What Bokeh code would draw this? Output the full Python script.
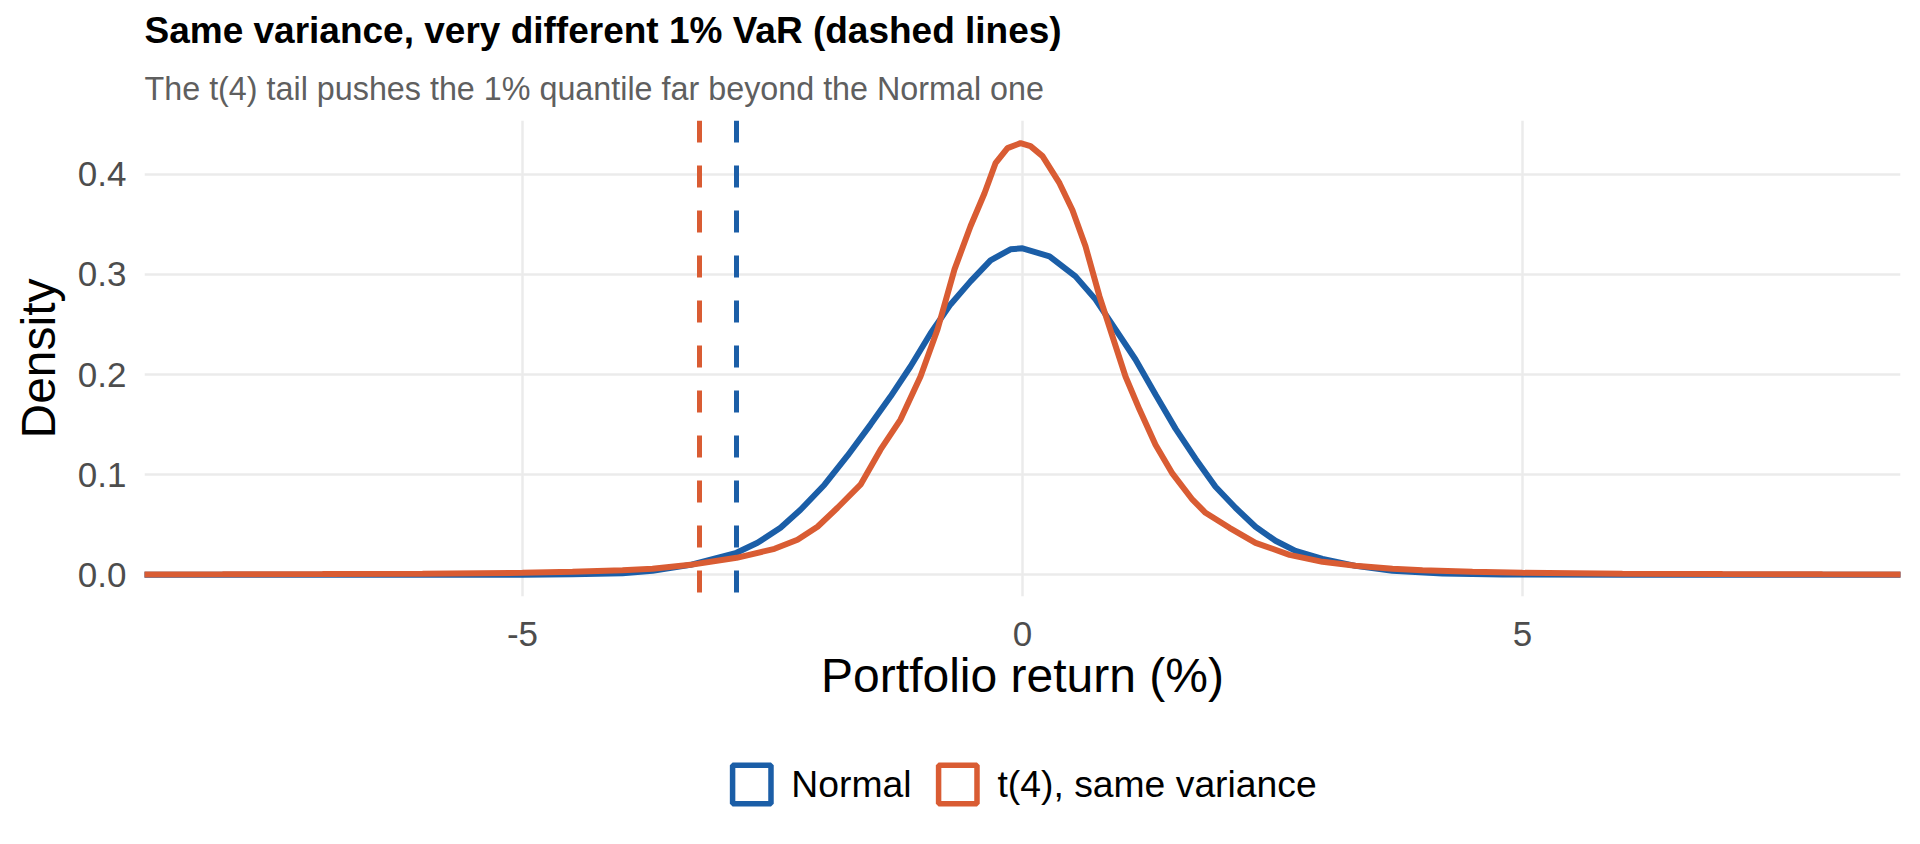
from bokeh.plotting import figure
from bokeh.models import (Range1d, FixedTicker, Span, Legend, LegendItem, Title,
                          NumeralTickFormatter)
from bokeh.layouts import column
from bokeh.embed import file_html
from bokeh.resources import INLINE

# ---- data ----
normal_x = [-9.0, -6.0, -5.0, -4.5, -4.0, -3.7, -3.32, -2.86, -2.65, -2.42, -2.22, -1.98,
            -1.75, -1.52, -1.32, -1.12, -0.92, -0.72, -0.52, -0.32, -0.12, 0.0, 0.27,
            0.53, 0.73, 0.93, 1.13, 1.33, 1.53, 1.73, 1.93, 2.13, 2.33, 2.53, 2.73,
            3.0, 3.33, 3.7, 4.2, 4.8, 6.0, 9.0]
normal_y = [0.0, 0.0, 0.0002, 0.0005, 0.0015, 0.004, 0.010, 0.022, 0.032, 0.047, 0.065, 0.090,
            0.119, 0.150, 0.178, 0.208, 0.241, 0.270, 0.293, 0.314, 0.325, 0.326, 0.318,
            0.298, 0.275, 0.245, 0.215, 0.180, 0.146, 0.116, 0.088, 0.067, 0.048, 0.034, 0.024,
            0.016, 0.009, 0.004, 0.0013, 0.0004, 0.0, 0.0]

t4_x = [-9.0, -8.0, -7.0, -6.0, -5.0, -4.5, -4.0, -3.7, -3.32, -2.86, -2.48, -2.25, -2.05,
        -1.85, -1.62, -1.42, -1.22, -1.02, -0.85, -0.68, -0.52, -0.38, -0.27, -0.15,
        -0.02, 0.08, 0.2, 0.37, 0.5, 0.63, 0.77, 0.9, 1.03, 1.17, 1.33, 1.5, 1.7, 1.83, 2.07,
        2.33, 2.67, 3.0, 3.33, 3.7, 4.0, 4.5, 5.0, 6.0, 7.0, 8.0, 9.0]
t4_y = [0.0004, 0.0005, 0.0008, 0.0012, 0.002, 0.003, 0.0045, 0.006, 0.010, 0.017, 0.026, 0.035, 0.048,
        0.067, 0.090, 0.125, 0.155, 0.198, 0.245, 0.305, 0.348, 0.381, 0.411, 0.426,
        0.431, 0.428, 0.418, 0.391, 0.364, 0.328, 0.278, 0.238, 0.198, 0.165, 0.130, 0.101, 0.075, 0.062, 0.047,
        0.032, 0.020, 0.013, 0.009, 0.006, 0.0045, 0.003, 0.002, 0.0012, 0.0008, 0.0005, 0.0004]

var_values = [-2.86, -3.23]          # 1% VaR: Normal, t(4)
series_names = ["Normal", "t(4), same variance"]
series_colors = ["#1b5ea7", "#d95c33"]

x_ticks = [-5, 0, 5]
x_tick_labels = ["-5", "0", "5"]
y_ticks = [0.0, 0.1, 0.2, 0.3, 0.4]

title_text = "Same variance, very different 1% VaR (dashed lines)"
subtitle_text = "The t(4) tail pushes the 1% quantile far beyond the Normal one"
x_label = "Portfolio return (%)"
y_label = "Density"

FONT = "Liberation Sans"

p = figure(width=1904, height=728, output_backend="svg", toolbar_location=None,
           title=None,
           x_range=Range1d(-8.78, 8.78), y_range=Range1d(-0.0216, 0.4536),
           min_border_left=144, min_border_right=4, min_border_top=120,
           min_border_bottom=132)
p.background_fill_color = "white"
p.border_fill_color = "white"
p.outline_line_color = None

# titles (subtitle first so the main title sits above it)
sub = Title(text=subtitle_text, align="left", text_font=FONT, text_font_size="32.3px",
            text_font_style="normal", text_color="#5f5f5f", standoff=27, offset=0)
p.add_layout(sub, "above")
main = Title(text=title_text, align="left", text_font=FONT, text_font_size="37px",
             text_font_style="bold", text_color="black", standoff=9, offset=0)
p.add_layout(main, "above")

# grid
for g in (p.xgrid, p.ygrid):
    g.grid_line_color = "#ebebeb"
    g.grid_line_width = 2.5
p.xgrid.ticker = FixedTicker(ticks=x_ticks)
p.ygrid.ticker = FixedTicker(ticks=y_ticks)

# axes
p.xaxis.ticker = FixedTicker(ticks=x_ticks, minor_ticks=[])
p.xaxis.major_label_overrides = {t: l for t, l in zip(x_ticks, x_tick_labels)}
p.yaxis.ticker = FixedTicker(ticks=y_ticks, minor_ticks=[])
p.yaxis.formatter = NumeralTickFormatter(format="0.0")
for ax in (p.xaxis, p.yaxis):
    ax.axis_line_color = None
    ax.major_tick_line_color = None
    ax.minor_tick_line_color = None
    ax.major_tick_out = 0
    ax.major_tick_in = 0
    ax.major_label_text_font = FONT
    ax.major_label_text_font_size = "35px"
    ax.major_label_text_color = "#4d4d4d"
    ax.axis_label_text_font = FONT
    ax.axis_label_text_font_size = "48px"
    ax.axis_label_text_font_style = "normal"
    ax.axis_label_text_color = "black"
p.xaxis.axis_label = x_label
p.yaxis.axis_label = y_label
p.xaxis.major_label_standoff = 25
p.xaxis.axis_label_standoff = 0
p.yaxis.major_label_standoff = 18
p.yaxis.axis_label_standoff = 10

# VaR lines
for v, c in zip(var_values, series_colors):
    p.add_layout(Span(location=v, dimension="height", line_color=c, line_width=5,
                      line_dash="22 23"))

# density curves
p.line(normal_x, normal_y, line_color=series_colors[0], line_width=6)
p.line(t4_x, t4_y, line_color=series_colors[1], line_width=6)

# ---- legend strip below ----
lg = figure(width=1904, height=112, output_backend="svg", toolbar_location=None,
            x_range=Range1d(-8.78, 8.78), y_range=Range1d(0, 1),
            min_border=0, min_border_left=144, min_border_right=4)
lg.axis.visible = False
lg.grid.visible = False
lg.outline_line_color = None
lg.background_fill_color = "white"
lg.border_fill_color = "white"

items = []
for name, c, v in zip(series_names, series_colors, var_values):
    r = lg.quad(left=[v], right=[v], top=[0], bottom=[0], fill_color=None,
                line_color=c, line_width=5.5, visible=False)
    items.append(LegendItem(label=name, renderers=[r]))
legend = Legend(items=items, orientation="horizontal", location="center",
                label_text_font=FONT, label_text_font_size="37.3px",
                label_text_color="black", glyph_width=48, glyph_height=48,
                label_standoff=16, spacing=22, border_line_color=None,
                background_fill_alpha=0, margin=0, padding=0,
                inactive_fill_alpha=0)
lg.add_layout(legend, "center")

layout = column(p, lg, spacing=0)
open("out.html", "w").write(file_html(layout, INLINE))
